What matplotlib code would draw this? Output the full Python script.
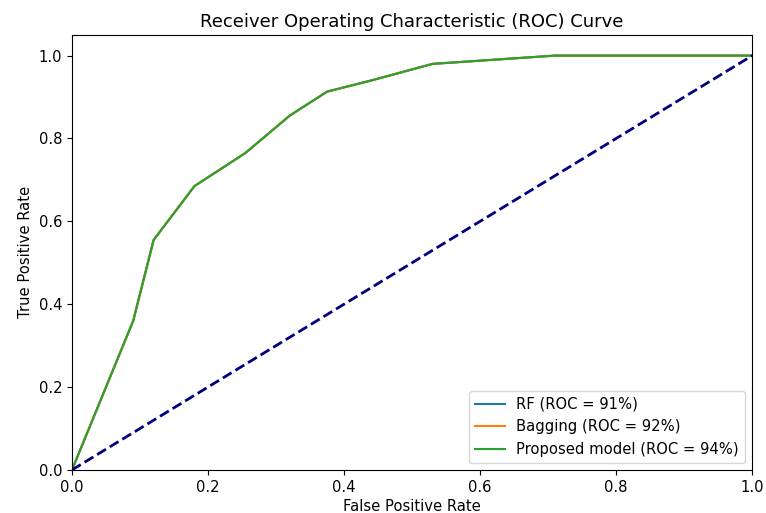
import matplotlib
matplotlib.use("Agg")
import matplotlib.pyplot as plt

# ROC points (all three curves lie on top of each other)
fpr_rf = [0.0, 0.09, 0.12, 0.18, 0.255, 0.32, 0.375, 0.44, 0.53, 0.71, 1.0]
tpr_rf = [0.0, 0.36, 0.555, 0.685, 0.765, 0.855, 0.913, 0.94, 0.98, 1.0, 1.0]
fpr_bag = [0.0, 0.09, 0.12, 0.18, 0.255, 0.32, 0.375, 0.44, 0.53, 0.71, 1.0]
tpr_bag = [0.0, 0.36, 0.555, 0.685, 0.765, 0.855, 0.913, 0.94, 0.98, 1.0, 1.0]
fpr_prop = [0.0, 0.09, 0.12, 0.18, 0.255, 0.32, 0.375, 0.44, 0.53, 0.71, 1.0]
tpr_prop = [0.0, 0.36, 0.555, 0.685, 0.765, 0.855, 0.913, 0.94, 0.98, 1.0, 1.0]
labels = ["RF (ROC = 91%)", "Bagging (ROC = 92%)", "Proposed model (ROC = 94%)"]

plt.rcParams["font.size"] = 10.6

fig = plt.figure(figsize=(7.66, 5.13), dpi=100)
ax = fig.add_axes([0.094, 0.084, 0.888, 0.848])

ax.plot(fpr_rf, tpr_rf, label=labels[0])
ax.plot(fpr_bag, tpr_bag, label=labels[1])
ax.plot(fpr_prop, tpr_prop, label=labels[2])
ax.plot([0, 1], [0, 1], color="navy", lw=2, linestyle="--")

ax.set_xlim(0.0, 1.0)
ax.set_ylim(0.0, 1.05)
ax.set_xlabel("False Positive Rate", labelpad=3)
ax.set_ylabel("True Positive Rate")
ax.set_title("Receiver Operating Characteristic (ROC) Curve", fontsize=13)
ax.legend(loc="lower right")

fig.savefig("out.png", dpi=100)
